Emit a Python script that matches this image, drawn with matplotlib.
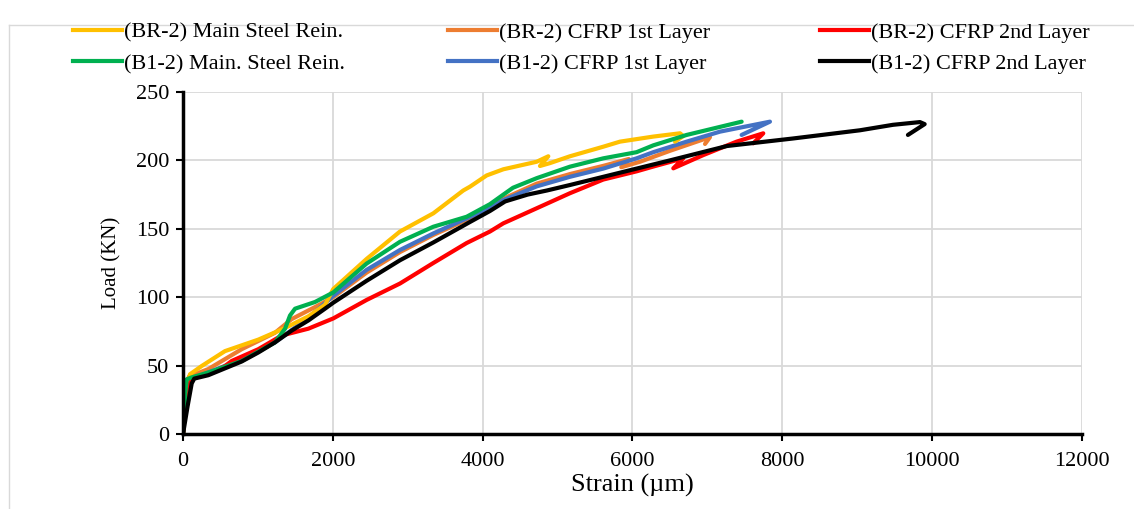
import matplotlib
matplotlib.use("Agg")
import matplotlib.pyplot as plt
from matplotlib.lines import Line2D

plt.rcParams['font.family'] = ['Liberation Serif', 'DejaVu Serif']

# Strain (µm) / load (kN) readings for each gauge
br2_steel_x = [0, 30, 93, 249, 560, 1005, 1362, 1673, 1895, 2006, 2451, 2896, 3341, 3741,
               3831, 4053, 4276, 4721, 4876, 4765, 4898, 5165, 5610, 5833, 6278, 6634, 6678, 6568]
br2_steel_y = [0, 30, 43.7, 49.7, 60.6, 69, 77.5, 86, 94.5, 106, 128, 148, 161.3, 178,
               180.8, 189, 193.5, 199, 203, 195.9, 198, 203, 210, 213.7, 217.4, 219.8, 217.8, 213.7]

br2_cfrp1_x = [0, 30, 80, 338, 783, 1228, 1450, 1762, 2006, 2451, 2896, 3341, 3786, 4276,
               4721, 5165, 5610, 5950, 5850, 6100, 6500, 7035, 6968]
br2_cfrp1_y = [0, 35, 42, 47.5, 62, 74, 84, 92.8, 100, 118, 133, 145.5, 156.5, 172,
               183, 190, 196, 201, 195, 199, 207, 217, 212]

br2_cfrp2_x = [0, 53, 133, 338, 560, 650, 1005, 1317, 1673, 1895, 2006, 2451, 2896, 3341,
               3786, 4097, 4276, 4721, 5165, 5610, 5833, 6055, 6278, 6678, 6545, 6946, 7390,
               7746, 7613]
br2_cfrp2_y = [0, 34, 41, 43.7, 49.7, 53.4, 62, 72, 77, 82, 84.5, 98, 110, 125,
               139.6, 148, 154, 165, 176, 186, 189, 192, 195.5, 201.5, 194.2, 203.9, 213.7,
               219.8, 212.5]

b12_steel_x = [0, 30, 49, 116, 338, 783, 1228, 1362, 1428, 1495, 1762, 2006, 2451, 2896,
               3341, 3786, 4097, 4276, 4405, 4721, 5165, 5610, 6055, 6278, 6723, 7457]
b12_steel_y = [0, 30, 40, 41.4, 45, 53.4, 67, 77, 86.6, 91.6, 96.5, 103.5, 124.6, 140.5,
               151.5, 158.8, 168, 175, 180, 187, 195.4, 201.5, 206, 211, 218.6, 228.3]

b12_cfrp1_x = [0, 40, 100, 338, 783, 1228, 1673, 2006, 2451, 2896, 3341, 3786, 4097, 4276,
               4721, 5165, 5610, 6055, 6278, 6723, 7168, 7835, 7457]
b12_cfrp1_y = [0, 30, 40, 45, 54.6, 67, 85, 101, 120, 134.5, 146.6, 157.6, 165, 171,
               181, 188, 194, 201.5, 206, 213.7, 221, 228.3, 218.6]

b12_cfrp2_x = [0, 60, 116, 150, 338, 560, 783, 1005, 1228, 1450, 1673, 1895, 2006, 2451,
               2896, 3341, 3831, 4097, 4300, 4600, 4858, 5165, 5610, 6055, 6500, 7261, 8142,
               9036, 9477, 9837, 9900, 9677]
b12_cfrp2_y = [0, 20, 37, 40.5, 43, 48, 53, 59.6, 67, 75.6, 83, 91.6, 96, 112,
               127, 140, 155, 163, 170, 175, 178, 182, 188, 194, 200, 210.5, 216,
               222, 226, 228, 226.5, 218.6]

series = [
    ("(BR-2) Main Steel Rein.", br2_steel_x, br2_steel_y, "#ffc000"),
    ("(BR-2) CFRP 1st Layer", br2_cfrp1_x, br2_cfrp1_y, "#ed7d31"),
    ("(BR-2) CFRP 2nd Layer", br2_cfrp2_x, br2_cfrp2_y, "#ff0000"),
    ("(B1-2) Main. Steel Rein.", b12_steel_x, b12_steel_y, "#00b050"),
    ("(B1-2) CFRP 1st Layer", b12_cfrp1_x, b12_cfrp1_y, "#4472c4"),
    ("(B1-2) CFRP 2nd Layer", b12_cfrp2_x, b12_cfrp2_y, "#000000"),
]

fig = plt.figure(figsize=(11.34, 5.09), dpi=100)
ax = fig.add_axes([0.1614, 0.1473, 0.7927, 0.672])

# draw order: orange and blue underneath
for idx in [1, 4, 0, 2, 3, 5]:
    name, xs, ys, col = series[idx]
    ax.plot(xs, ys, color=col, lw=3.0, solid_joinstyle='round', solid_capstyle='round', zorder=3)

ax.set_xlim(0, 12000)
ax.set_ylim(0, 250)
ax.set_xticks(range(0, 12001, 2000))
ax.set_yticks(range(0, 251, 50))
ax.grid(True, color='#d9d9d9', lw=1.3, zorder=0)
ax.set_axisbelow(True)
for s in ['top', 'right']:
    ax.spines[s].set_visible(False)
for s in ['left', 'bottom']:
    ax.spines[s].set_linewidth(2.5)
    ax.spines[s].set_zorder(4)
ax.tick_params(direction='out', length=5, width=1.5, labelsize=16, pad=5)
ax.tick_params(axis='x', pad=8)
ax.set_xlabel("Strain (µm)", fontsize=19, labelpad=2)
ax.set_ylabel("Load (KN)", fontsize=15, labelpad=10)

# legend: three columns of two entries each
col_x = [73, 448, 820]
for c in range(3):
    top, bottom = series[c], series[c + 3]
    fig.legend([Line2D([], [], color=top[3], lw=3), Line2D([], [], color=bottom[3], lw=3)],
               [top[0], bottom[0]], loc='upper left',
               bbox_to_anchor=(col_x[c] / 1134, 1 - 22 / 509), frameon=False, fontsize=16,
               handlelength=2.2, handletextpad=0.1, labelspacing=0.5,
               borderpad=0, borderaxespad=0)

# outer chart frame
fig.add_artist(Line2D([9 / 1134, 9 / 1134], [0, 1 - 25 / 509], transform=fig.transFigure,
                      color='#d9d9d9', lw=1))
fig.add_artist(Line2D([9 / 1134, 1], [1 - 25 / 509, 1 - 25 / 509], transform=fig.transFigure,
                      color='#d9d9d9', lw=1))

fig.savefig("out.png", dpi=100)
